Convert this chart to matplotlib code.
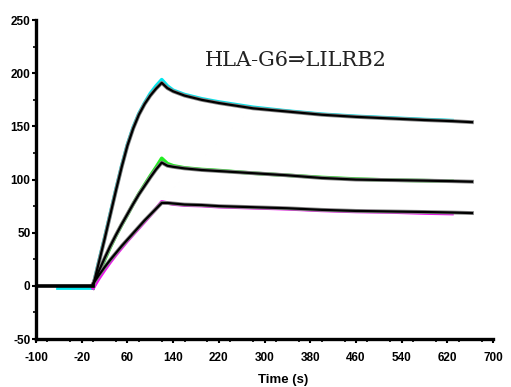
import numpy as np
import matplotlib
matplotlib.use("Agg")
import matplotlib.pyplot as plt
from matplotlib.ticker import MultipleLocator

plt.rcParams['axes.unicode_minus'] = False

# sensorgram (time in s, response)
t_base = [-100, 0]
fit_base = [0, 0]
t_base_data = [-64, 0]
data_base = [-2, -2]

t_assoc = [0, 10, 20, 30, 40, 50, 60, 70, 80, 90, 100, 110, 120]
t_dissoc = [120, 130, 140, 160, 190, 220, 280, 340, 400, 460, 520, 580, 628, 663]

# fitted curves (black)
fit_hi_a = [0, 22, 44, 67, 90, 112, 132, 148, 161, 171, 179, 185.5, 191]
fit_hi_d = [191, 186, 183, 179, 175, 172, 167, 164, 161, 159, 157.5, 156, 155, 154]
fit_mid_a = [2, 14, 26, 37.5, 48, 58, 67.5, 77, 86, 94, 102, 109.5, 116]
fit_mid_d = [116, 113, 112, 110.5, 109, 108, 106, 104, 101.5, 100, 99.5, 99, 98.5, 98]
fit_lo_a = [2, 10, 17.5, 24.5, 31, 37.5, 43.5, 49.5, 55.5, 61.5, 67, 72.5, 78]
fit_lo_d = [78, 78, 77.5, 76.5, 76, 75, 74, 73, 71.5, 70.5, 70, 69.5, 69, 68.5]

# measured curves (coloured), they stop at ~628 s
data_hi_a = [0, 23, 45, 68, 91, 113, 133, 149, 162, 172, 181, 188, 194]
data_hi_d = [194, 188, 184, 180, 176, 173, 168, 164.5, 161.5, 159.5, 158, 156.5, 155.5]
data_mid_a = [-2, 12, 24.5, 36.5, 47.5, 57.5, 67, 77, 86.5, 95, 103.5, 111.5, 120]
data_mid_d = [120, 115, 113, 111, 109.5, 108.5, 106, 104, 102, 100.5, 99.5, 99, 98.5]
data_lo_a = [-2, 7, 15, 22.5, 29.5, 36, 42.5, 48.5, 54.5, 60.5, 66.5, 72.5, 79]
data_lo_d = [79, 78, 77, 76, 75.5, 74.5, 73.5, 72.5, 71, 70, 69.5, 68.5, 68]

xticks = np.arange(-100, 701, 80)
yticks = np.arange(-50, 251, 50)

fig = plt.figure(figsize=(5.11, 3.87), dpi=100)
ax = fig.add_axes([0.0705, 0.124, 0.8945, 0.824])

# coloured data underneath
cols = ['#00e8f0', '#22ee22', '#ee11ee']
ax.plot(t_base_data, data_base, color=cols[0], lw=2.0, zorder=2)
for c, a, d in [(cols[0], data_hi_a, data_hi_d),
                (cols[1], data_mid_a, data_mid_d),
                (cols[2], data_lo_a, data_lo_d)]:
    ax.plot(t_assoc + t_dissoc[1:13], a + d[1:], color=c, lw=2.6, zorder=2,
            solid_joinstyle='round')

# black fits on top, with a grey fringe
ax.plot(t_base, fit_base, color='black', lw=2.6, zorder=4)
for a, d in [(fit_hi_a, fit_hi_d), (fit_mid_a, fit_mid_d), (fit_lo_a, fit_lo_d)]:
    tt = t_assoc + t_dissoc[1:]
    yy = a + d[1:]
    ax.plot(tt, yy, color='#888888', lw=2.8, zorder=3)
    ax.plot(tt, yy, color='black', lw=1.6, zorder=4)

ax.set_xlim(-100, 700)
ax.set_ylim(-50, 250)
ax.set_xticks(xticks)
ax.set_yticks(yticks)
ax.xaxis.set_minor_locator(MultipleLocator(40))
ax.yaxis.set_minor_locator(MultipleLocator(25))

for s in ['top', 'right']:
    ax.spines[s].set_visible(False)
for s in ['left', 'bottom']:
    ax.spines[s].set_linewidth(2.4)

ax.tick_params(which='major', direction='out', length=3, width=1.5, pad=6)
ax.tick_params(axis='y', which='major', pad=1)
ax.tick_params(which='minor', direction='out', length=2, width=1.2)

for lab in ax.get_xticklabels() + ax.get_yticklabels():
    lab.set_fontfamily('Liberation Sans')
    lab.set_fontweight('bold')
    lab.set_fontsize(8.5)

ax.set_xlabel('Time (s)', fontfamily='Liberation Sans', fontweight='bold',
              fontsize=9.5, labelpad=6)
ax.xaxis.set_label_coords(0.54, -0.11)

ax.text(0.37, 0.872, 'HLA-G6⇒LILRB2', transform=ax.transAxes,
        fontsize=15, family=['DejaVu Serif', 'DejaVu Sans'],
        ha='left', va='center', color='#222222')

fig.savefig('out.png', dpi=100)
